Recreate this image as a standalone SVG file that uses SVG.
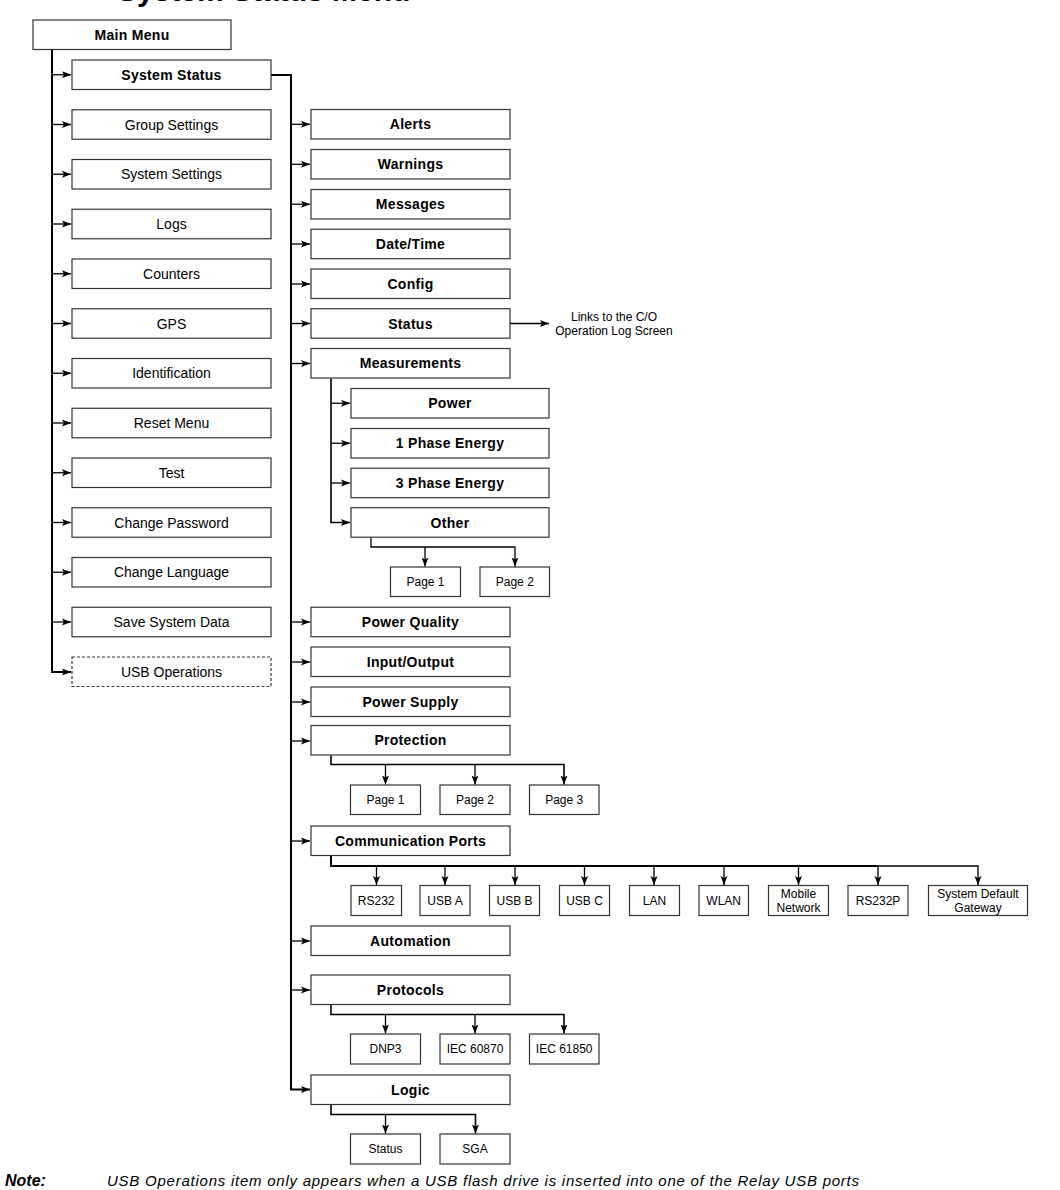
<svg xmlns="http://www.w3.org/2000/svg" width="1060" height="1190" viewBox="0 0 1060 1190">
<defs>
<style>
rect{fill:#fff;stroke:#333;stroke-width:1.2}
rect.d{stroke-dasharray:3 2}
text{font-family:"Liberation Sans",Arial,sans-serif;font-size:14px;text-anchor:middle;fill:#000}
.bd{font-weight:bold;letter-spacing:0.3px}
.s{font-size:12px}
.c path{fill:none;stroke:#000;stroke-width:1.3}
.c path.k{stroke-width:2}
.c path.m{stroke-width:1.6}
</style>
<marker id="a" markerWidth="9" markerHeight="8" refX="9" refY="4" orient="auto" markerUnits="userSpaceOnUse"><path d="M0,0.5 L9,4 L0,7.5 L2,4 z" fill="#000"/></marker>
</defs>
<rect width="1060" height="1190" style="fill:#fff;stroke:none"/>
<text x="117" y="1" style="font-size:30px;font-weight:bold;text-anchor:start">System Status Menu</text>

<g class="c" id="connectors">
<path class="k" d="M52,50 V672 H71" marker-end="url(#a)"/>
<path d="M52,74.75 H71" marker-end="url(#a)"/>
<path d="M52,124.5 H71" marker-end="url(#a)"/>
<path d="M52,174.25 H71" marker-end="url(#a)"/>
<path d="M52,224 H71" marker-end="url(#a)"/>
<path d="M52,273.75 H71" marker-end="url(#a)"/>
<path d="M52,323.5 H71" marker-end="url(#a)"/>
<path d="M52,373.25 H71" marker-end="url(#a)"/>
<path d="M52,423 H71" marker-end="url(#a)"/>
<path d="M52,472.75 H71" marker-end="url(#a)"/>
<path d="M52,522.5 H71" marker-end="url(#a)"/>
<path d="M52,572.25 H71" marker-end="url(#a)"/>
<path d="M52,622 H71" marker-end="url(#a)"/>
<path class="k" d="M271,75 H291 V1089.5 H310" marker-end="url(#a)"/>
<path d="M291,124.3 H310" marker-end="url(#a)"/>
<path d="M291,164.3 H310" marker-end="url(#a)"/>
<path d="M291,204.2 H310" marker-end="url(#a)"/>
<path d="M291,244 H310" marker-end="url(#a)"/>
<path d="M291,284 H310" marker-end="url(#a)"/>
<path d="M291,323.5 H310" marker-end="url(#a)"/>
<path d="M291,363.5 H310" marker-end="url(#a)"/>
<path d="M291,622 H310" marker-end="url(#a)"/>
<path d="M291,662 H310" marker-end="url(#a)"/>
<path d="M291,702 H310" marker-end="url(#a)"/>
<path d="M291,741 H310" marker-end="url(#a)"/>
<path d="M291,841 H310" marker-end="url(#a)"/>
<path d="M291,941 H310" marker-end="url(#a)"/>
<path d="M291,990 H310" marker-end="url(#a)"/>
<path d="M510,323.5 H549" marker-end="url(#a)"/>
<path class="m" d="M331,378.5 V522.5 H350" marker-end="url(#a)"/>
<path d="M331,403.25 H350" marker-end="url(#a)"/>
<path d="M331,443.25 H350" marker-end="url(#a)"/>
<path d="M331,483 H350" marker-end="url(#a)"/>
<path d="M371,537.5 V547 H515 V566.5" marker-end="url(#a)"/>
<path d="M425,547 V566.5" marker-end="url(#a)"/>
<path class="m" d="M331,755.5 V764.5 H564 V784.5" marker-end="url(#a)"/>
<path d="M385.5,764.5 V784.5" marker-end="url(#a)"/>
<path d="M475,764.5 V784.5" marker-end="url(#a)"/>
<path class="k" d="M331,856 V866 H878"/>
<path d="M878,866 H978 V885" marker-end="url(#a)"/>
<path d="M376.5,866 V885" marker-end="url(#a)"/>
<path d="M445,866 V885" marker-end="url(#a)"/>
<path d="M515,866 V885" marker-end="url(#a)"/>
<path d="M584.5,866 V885" marker-end="url(#a)"/>
<path d="M654,866 V885" marker-end="url(#a)"/>
<path d="M724,866 V885" marker-end="url(#a)"/>
<path d="M798.5,866 V885" marker-end="url(#a)"/>
<path d="M878,866 V885" marker-end="url(#a)"/>
<path class="m" d="M331,1004.5 V1014.5 H564 V1033.5" marker-end="url(#a)"/>
<path d="M385.5,1014.5 V1033.5" marker-end="url(#a)"/>
<path d="M475,1014.5 V1033.5" marker-end="url(#a)"/>
<path class="m" d="M331,1104.5 V1114.5 H475.5 V1133.5" marker-end="url(#a)"/>
<path d="M385.5,1114.5 V1133.5" marker-end="url(#a)"/>
</g>

<g id="main-menu"><rect x="33" y="20" width="198" height="29.5"/><text class="bd" x="132" y="39.5">Main Menu</text></g>

<g id="system-status"><rect x="72" y="60" width="199" height="29.5"/><text class="bd" x="171.5" y="79.5">System Status</text></g>
<g id="group-settings"><rect x="72" y="109.75" width="199" height="29.5"/><text x="171.5" y="129.5">Group Settings</text></g>
<g id="system-settings"><rect x="72" y="159.5" width="199" height="29.5"/><text x="171.5" y="179.2">System Settings</text></g>
<g id="logs"><rect x="72" y="209.25" width="199" height="29.5"/><text x="171.5" y="229">Logs</text></g>
<g id="counters"><rect x="72" y="259" width="199" height="29.5"/><text x="171.5" y="278.7">Counters</text></g>
<g id="gps"><rect x="72" y="308.75" width="199" height="29.5"/><text x="171.5" y="328.5">GPS</text></g>
<g id="identification"><rect x="72" y="358.5" width="199" height="29.5"/><text x="171.5" y="378.2">Identification</text></g>
<g id="reset-menu"><rect x="72" y="408.25" width="199" height="29.5"/><text x="171.5" y="428">Reset Menu</text></g>
<g id="test"><rect x="72" y="458" width="199" height="29.5"/><text x="171.5" y="477.7">Test</text></g>
<g id="change-password"><rect x="72" y="507.75" width="199" height="29.5"/><text x="171.5" y="527.5">Change Password</text></g>
<g id="change-language"><rect x="72" y="557.5" width="199" height="29.5"/><text x="171.5" y="577.2">Change Language</text></g>
<g id="save-system-data"><rect x="72" y="607.25" width="199" height="29.5"/><text x="171.5" y="627">Save System Data</text></g>
<g id="usb-operations"><rect class="d" x="72" y="657" width="199" height="29.5"/><text x="171.5" y="676.7">USB Operations</text></g>

<g id="alerts"><rect x="311" y="109.5" width="199" height="29.5"/><text class="bd" x="410.5" y="129.2">Alerts</text></g>
<g id="warnings"><rect x="311" y="149.5" width="199" height="29.5"/><text class="bd" x="410.5" y="169.2">Warnings</text></g>
<g id="messages"><rect x="311" y="189.5" width="199" height="29.5"/><text class="bd" x="410.5" y="209.2">Messages</text></g>
<g id="date-time"><rect x="311" y="229.2" width="199" height="29.5"/><text class="bd" x="410.5" y="249">Date/Time</text></g>
<g id="config"><rect x="311" y="269" width="199" height="29.5"/><text class="bd" x="410.5" y="288.7">Config</text></g>
<g id="status"><rect x="311" y="308.7" width="199" height="29.5"/><text class="bd" x="410.5" y="328.5">Status</text></g>
<g id="status-link"><text class="s" x="614" y="321">Links to the C/O</text><text class="s" x="614" y="335.3">Operation Log Screen</text></g>
<g id="measurements"><rect x="311" y="348.5" width="199" height="29.5"/><text class="bd" x="410.5" y="368.3">Measurements</text></g>
<g id="power"><rect x="351" y="388.5" width="198" height="29.5"/><text class="bd" x="450" y="408.2">Power</text></g>
<g id="phase1"><rect x="351" y="428.5" width="198" height="29.5"/><text class="bd" x="450" y="448.2">1 Phase Energy</text></g>
<g id="phase3"><rect x="351" y="468.2" width="198" height="29.5"/><text class="bd" x="450" y="488">3 Phase Energy</text></g>
<g id="other"><rect x="351" y="507.7" width="198" height="29.5"/><text class="bd" x="450" y="527.5">Other</text></g>
<g id="other-page1"><rect x="390.5" y="567" width="70" height="29.5"/><text class="s" x="425.5" y="586">Page 1</text></g>
<g id="other-page2"><rect x="480" y="567" width="69.5" height="29.5"/><text class="s" x="514.8" y="586">Page 2</text></g>

<g id="power-quality"><rect x="311" y="607.2" width="199" height="29.5"/><text class="bd" x="410.5" y="627">Power Quality</text></g>
<g id="input-output"><rect x="311" y="647" width="199" height="29.5"/><text class="bd" x="410.5" y="666.8">Input/Output</text></g>
<g id="power-supply"><rect x="311" y="687" width="199" height="29.5"/><text class="bd" x="410.5" y="706.8">Power Supply</text></g>
<g id="protection"><rect x="311" y="725.5" width="199" height="29.5"/><text class="bd" x="410.5" y="745.3">Protection</text></g>
<g id="prot-page1"><rect x="350.5" y="785" width="70" height="29.5"/><text class="s" x="385.5" y="804">Page 1</text></g>
<g id="prot-page2"><rect x="440" y="785" width="70" height="29.5"/><text class="s" x="475" y="804">Page 2</text></g>
<g id="prot-page3"><rect x="529.5" y="785" width="69.5" height="29.5"/><text class="s" x="564.2" y="804">Page 3</text></g>

<g id="communication-ports"><rect x="311" y="826" width="199" height="29.5"/><text class="bd" x="410.5" y="845.7">Communication Ports</text></g>
<g id="rs232"><rect x="351" y="885.5" width="50.5" height="30"/><text class="s" x="376.2" y="905">RS232</text></g>
<g id="usb-a"><rect x="420" y="885.5" width="50" height="30"/><text class="s" x="445" y="905">USB A</text></g>
<g id="usb-b"><rect x="489.5" y="885.5" width="50" height="30"/><text class="s" x="514.5" y="905">USB B</text></g>
<g id="usb-c"><rect x="559.5" y="885.5" width="50" height="30"/><text class="s" x="584.5" y="905">USB C</text></g>
<g id="lan"><rect x="629.5" y="885.5" width="50" height="30"/><text class="s" x="654.5" y="905">LAN</text></g>
<g id="wlan"><rect x="699" y="885.5" width="49.5" height="30"/><text class="s" x="723.7" y="905">WLAN</text></g>
<g id="mobile-network"><rect x="768.5" y="885.5" width="60" height="30"/><text class="s" x="798.5" y="898">Mobile</text><text class="s" x="798.5" y="912">Network</text></g>
<g id="rs232p"><rect x="848" y="885.5" width="60" height="30"/><text class="s" x="878" y="905">RS232P</text></g>
<g id="system-default-gateway"><rect x="928.5" y="885.5" width="99" height="30"/><text class="s" x="978" y="898">System Default</text><text class="s" x="978" y="912">Gateway</text></g>

<g id="automation"><rect x="311" y="926" width="199" height="29.5"/><text class="bd" x="410.5" y="945.8">Automation</text></g>
<g id="protocols"><rect x="311" y="975" width="199" height="29.5"/><text class="bd" x="410.5" y="994.8">Protocols</text></g>
<g id="dnp3"><rect x="350.5" y="1034" width="70" height="30"/><text class="s" x="385.5" y="1053.3">DNP3</text></g>
<g id="iec60870"><rect x="440" y="1034" width="70" height="30"/><text class="s" x="475" y="1053.3">IEC 60870</text></g>
<g id="iec61850"><rect x="529.5" y="1034" width="69.5" height="30"/><text class="s" x="564.2" y="1053.3">IEC 61850</text></g>

<g id="logic"><rect x="311" y="1075" width="199" height="29.5"/><text class="bd" x="410.5" y="1094.8">Logic</text></g>
<g id="logic-status"><rect x="350.5" y="1134" width="70" height="30"/><text class="s" x="385.5" y="1153.3">Status</text></g>
<g id="logic-sga"><rect x="440" y="1134" width="70" height="30"/><text class="s" x="475" y="1153.3">SGA</text></g>

<g id="note">
<text x="5" y="1186" style="font-size:16px;font-weight:bold;font-style:italic;text-anchor:start">Note:</text>
<text x="107" y="1186" textLength="752" lengthAdjust="spacing" style="font-size:15px;font-style:italic;text-anchor:start">USB Operations item only appears when a USB flash drive is inserted into one of the Relay USB ports</text>
</g>
</svg>
